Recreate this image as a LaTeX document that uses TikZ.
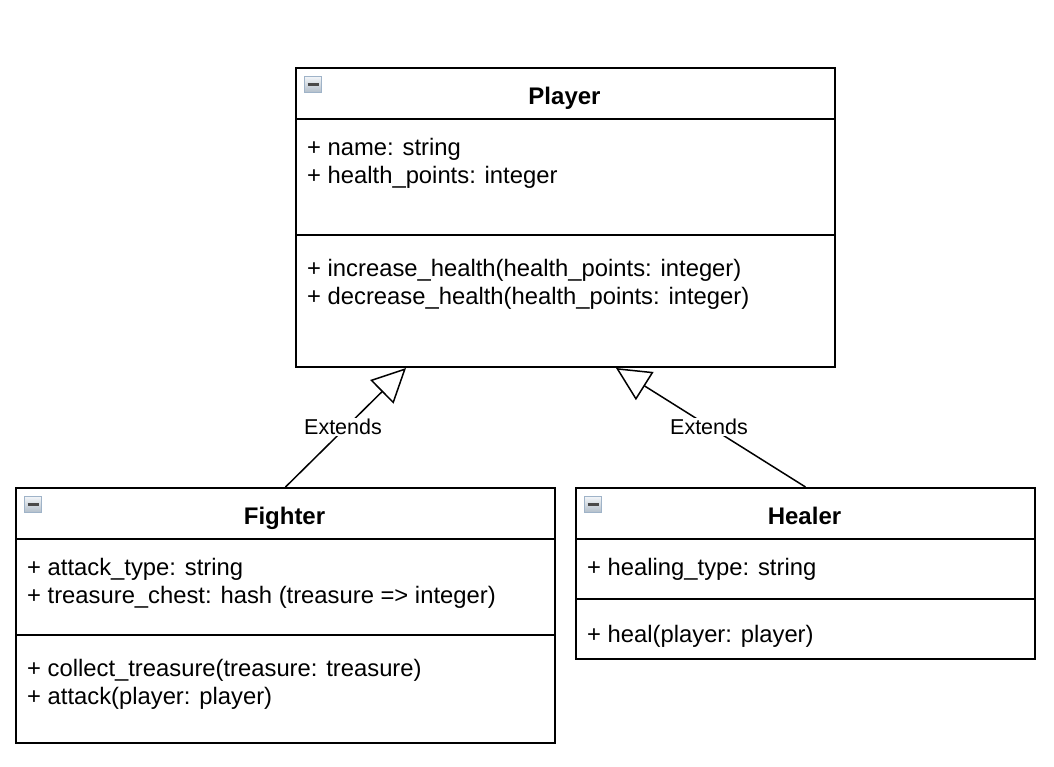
\documentclass[tikz,border=0pt]{standalone}
\usepackage{fontspec}
\setmainfont{Liberation Sans}
\usetikzlibrary{arrows.meta}
\definecolor{iconborder}{HTML}{9FB3C8}
\definecolor{icontop}{HTML}{F2F5F8}
\definecolor{iconbot}{HTML}{B2BECA}
\definecolor{icondash}{HTML}{4A4A4A}
\tikzset{
  umlbox/.style={draw=black, line width=2pt, fill=white, anchor=north west, inner sep=0pt},
  sepline/.style={draw=black, line width=2pt},
  member/.style={anchor=base west, inner sep=0pt, font=\fontsize{23.8}{28}\selectfont},
  umltitle/.style={anchor=base, inner sep=0pt, font=\fontsize{24}{28}\selectfont\bfseries},
  icon/.style={draw=iconborder, line width=0.8pt, minimum width=17pt, minimum height=16pt, inner sep=0pt,
    top color=icontop, bottom color=iconbot,
    path picture={\draw[icondash, line width=2.2pt] ([xshift=3pt]path picture bounding box.west) -- ([xshift=-3pt]path picture bounding box.east);}},
  extends/.style={draw=black, line width=1.5pt, -{Triangle[open, length=34pt, width=33pt, line width=1.5pt]}},
  extlabel/.style={fill=white, inner sep=1pt, font=\fontsize{21.5}{24}\selectfont}
}
\begin{document}
\begin{tikzpicture}[x=1pt, y=-1pt]
\useasboundingbox (0,0) rectangle (1054,766);
% Player
\node[umlbox, minimum width=539pt, minimum height=299pt] (player) at (295,67) {};
\draw[sepline] (295,119) -- (834,119);
\draw[sepline] (295,235) -- (834,235);
\node[icon] (iconP) at (313,84.5) {};
\node[umltitle] (tP) at (564.5,104) {Player};
\node[member] (p1) at (307,155) {+ name: string};
\node[member] (p2) at (307,183) {+ health\_points: integer};
\node[member] (p3) at (307,276) {+ increase\_health(health\_points: integer)};
\node[member] (p4) at (307,304) {+ decrease\_health(health\_points: integer)};
% Fighter
\node[umlbox, minimum width=539pt, minimum height=255pt] (fighter) at (15,487) {};
\draw[sepline] (15,539) -- (554,539);
\draw[sepline] (15,635) -- (554,635);
\node[icon] (iconF) at (33,504.5) {};
\node[umltitle] (tF) at (284.5,524) {Fighter};
\node[member] (f1) at (27,575) {+ attack\_type: string};
\node[member] (f2) at (27,603) {+ treasure\_chest: hash (treasure => integer)};
\node[member] (f3) at (27,676) {+ collect\_treasure(treasure: treasure)};
\node[member] (f4) at (27,704) {+ attack(player: player)};
% Healer
\node[umlbox, minimum width=459pt, minimum height=171pt] (healer) at (575,487) {};
\draw[sepline] (575,539) -- (1034,539);
\draw[sepline] (575,599) -- (1034,599);
\node[icon] (iconH) at (593,504.5) {};
\node[umltitle] (tH) at (804.5,524) {Healer};
\node[member] (h1) at (587,575) {+ healing\_type: string};
\node[member] (h2) at (587,642) {+ heal(player: player)};
% connectors
\coordinate (pf) at (406,368);
\coordinate (ph) at (616,368);
\draw[extends] (fighter.north) -- (pf);
\draw[extends] (healer.north) -- (ph);
\node[extlabel] (lf) at (343,427) {Extends};
\node[extlabel] (lh) at (709,427) {Extends};
\end{tikzpicture}
\end{document}
